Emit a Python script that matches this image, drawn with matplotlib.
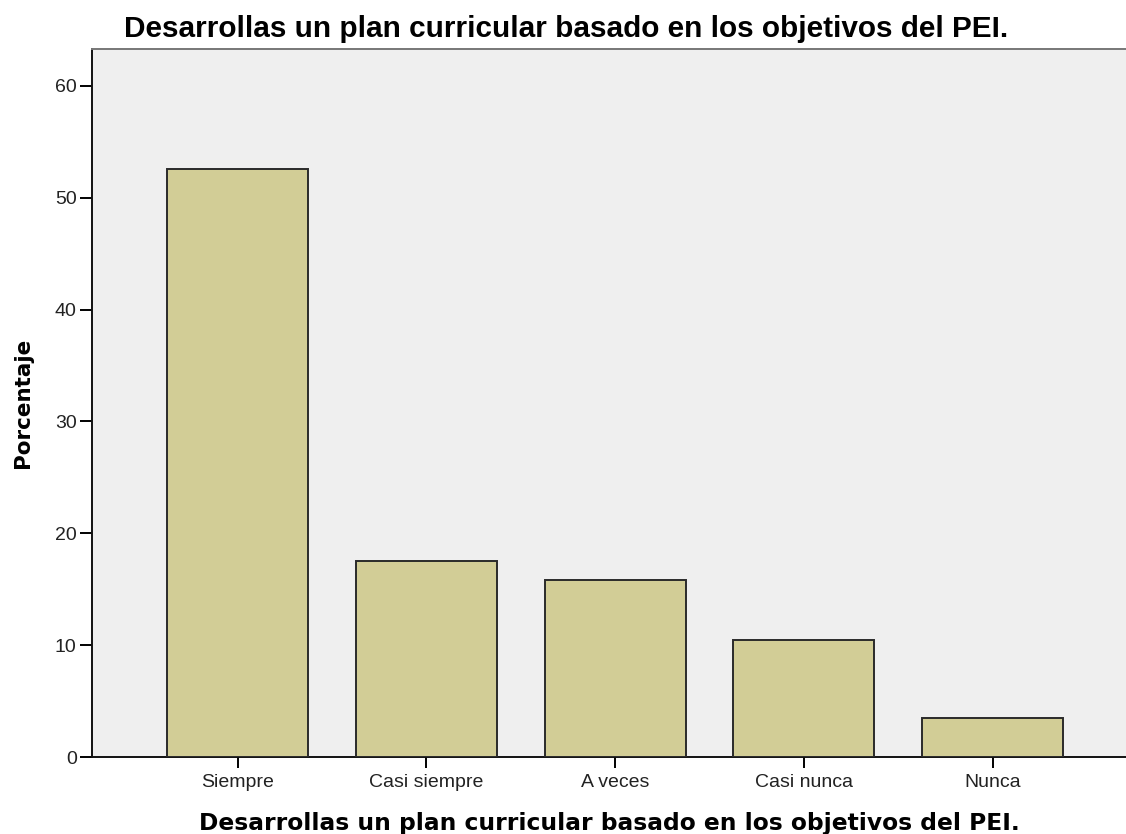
#!/usr/bin/env python3
"""Bar chart: Desarrollas un plan curricular basado en los objetivos del PEI."""

import matplotlib

matplotlib.use("Agg")
import matplotlib.pyplot as plt
import numpy as np

categories = ["Siempre", "Casi siempre", "A veces", "Casi nunca", "Nunca"]
percentages = [52.6, 17.5, 15.8, 10.5, 3.5]
y_ticks = [0, 10, 20, 30, 40, 50, 60]
title = "Desarrollas un plan curricular basado en los objetivos del PEI."


def main() -> None:
    plt.rcParams["font.family"] = ["Liberation Sans", "DejaVu Sans"]

    fig = plt.figure(figsize=(11.26, 8.34), dpi=100)
    ax = fig.add_axes([0.0817, 0.0923, 0.9183, 0.8489])
    ax.set_facecolor("#efefef")

    x = np.arange(len(categories))
    ax.bar(
        x,
        percentages,
        width=0.747,
        color="#d2cd96",
        edgecolor="#2a2a2a",
        linewidth=1.4,
        zorder=3,
    )

    ax.set_xlim(-0.772, 4.706)
    ax.set_ylim(0, 63.3)
    ax.set_yticks(y_ticks)
    ax.set_xticks(x)
    ax.set_xticklabels(categories)

    ax.tick_params(axis="y", length=9, width=1.4, labelsize=14, pad=2,
                   labelcolor="#222222")
    ax.tick_params(axis="x", length=8, width=1.4, labelsize=14, pad=4,
                   labelcolor="#222222")

    for side in ("left", "bottom"):
        ax.spines[side].set_color("#111111")
        ax.spines[side].set_linewidth(1.4)
    ax.spines["top"].set_color("#777777")
    ax.spines["top"].set_linewidth(1.4)
    ax.spines["right"].set_visible(False)

    ax.set_ylabel("Porcentaje", fontsize=15.5, fontweight="bold",
                  family="DejaVu Sans")
    ax.yaxis.set_label_coords(-0.057, 0.5)
    ax.set_xlabel(title, fontsize=16.8, fontweight="bold",
                  family="DejaVu Sans", labelpad=15)
    fig.text(0.503, 0.965, title, ha="center", va="center",
             fontsize=21.4, fontweight="bold")

    fig.savefig("out.png", dpi=100)


if __name__ == "__main__":
    main()
